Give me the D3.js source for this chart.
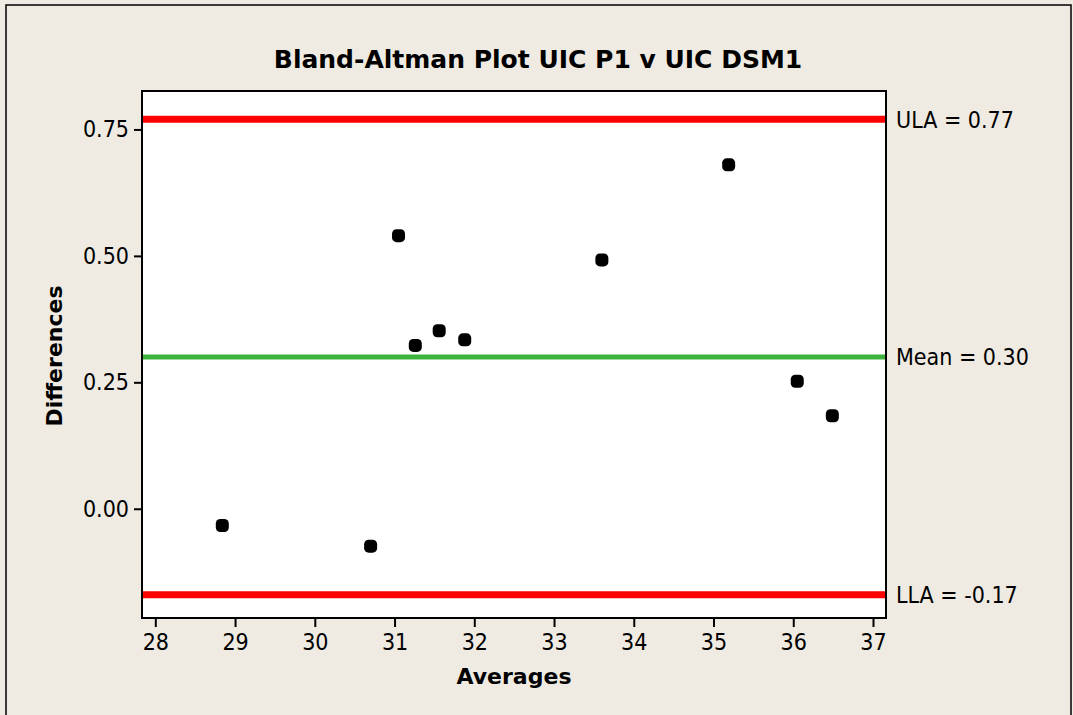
<!DOCTYPE html>
<html>
<head>
<meta charset="utf-8">
<script src="https://cdn.jsdelivr.net/npm/d3@7"></script>
<style>
  body { margin: 0; background: #efebe2; }
  text { font-family: Tahoma, "DejaVu Sans Condensed", "DejaVu Sans", sans-serif; fill: #000; }
  .bold { font-family: Tahoma, "DejaVu Sans", sans-serif; font-weight: bold; }
</style>
</head>
<body>
<script>
const width = 1073;
const height = 715;

// averages (x) and differences (y)
const averages = [28.84, 30.70, 31.05, 31.26, 31.56, 31.88, 33.60, 35.19, 36.05, 36.49];
const differences = [-0.033, -0.074, 0.540, 0.323, 0.352, 0.334, 0.492, 0.680, 0.252, 0.184];

const refLines = [
    { name: "ULA", value: 0.77, color: "#ff0000", width: 7 },
    { name: "Mean", value: 0.30, color: "#3cb43c", width: 5 },
    { name: "LLA", value: -0.17, color: "#ff0000", width: 7 }
];

const xTicks = [28, 29, 30, 31, 32, 33, 34, 35, 36, 37];
const yTicks = [0.00, 0.25, 0.50, 0.75];

const margin = { top: 91, right: 187, bottom: 97, left: 142 };
const plotW = width - margin.left - margin.right;
const plotH = height - margin.top - margin.bottom;

const svg = d3.select(document.body).append("svg")
    .attr("width", width)
    .attr("height", height);

// outer frame
svg.append("rect")
    .attr("x", 6).attr("y", 5)
    .attr("width", 1065).attr("height", 720)
    .attr("fill", "#efebe2")
    .attr("stroke", "#000")
    .attr("stroke-width", 1.5);

const x = d3.scaleLinear().domain([27.833, 37.163]).range([0, plotW]);
const y = d3.scaleLinear().domain([-0.216, 0.826]).range([plotH, 0]);

const g = svg.append("g").attr("transform", `translate(${margin.left},${margin.top})`);

g.append("rect")
    .attr("width", plotW).attr("height", plotH)
    .attr("fill", "#fff");

// reference lines
g.selectAll(".ref")
    .data(refLines)
    .join("line")
    .attr("x1", 0).attr("x2", plotW)
    .attr("y1", d => y(d.value)).attr("y2", d => y(d.value))
    .attr("stroke", d => d.color)
    .attr("stroke-width", d => d.width);

g.selectAll(".reflabel")
    .data(refLines)
    .join("text")
    .attr("x", plotW + 10)
    .attr("y", d => y(d.value))
    .attr("dy", "0.36em")
    .style("font-size", "23px")
    .text(d => `${d.name} = ${d.value.toFixed(2)}`);

// points
const pts = averages.map((a, i) => ({ a, d: differences[i] }));
g.selectAll(".pt")
    .data(pts)
    .join("rect")
    .attr("x", d => x(d.a) - 6.5)
    .attr("y", d => y(d.d) - 6.5)
    .attr("width", 13).attr("height", 13)
    .attr("rx", 4.5)
    .attr("fill", "#000");

// axes
const xAxis = g.append("g")
    .attr("transform", `translate(0,${plotH})`)
    .call(d3.axisBottom(x).tickValues(xTicks).tickSize(9).tickPadding(7).tickSizeOuter(0));
const yAxis = g.append("g")
    .call(d3.axisLeft(y).tickValues(yTicks).tickFormat(d3.format(".2f")).tickSize(8).tickPadding(5).tickSizeOuter(0));

[xAxis, yAxis].forEach(ax => {
    ax.select(".domain").remove();
    ax.selectAll("line").attr("stroke", "#000").attr("stroke-width", 2);
    ax.selectAll("text").style("font-size", "23px").attr("font-family", null);
});

// frame of plot area
g.append("rect")
    .attr("width", plotW).attr("height", plotH)
    .attr("fill", "none")
    .attr("stroke", "#000")
    .attr("stroke-width", 2);

// titles
svg.append("text")
    .attr("class", "bold")
    .attr("x", 538).attr("y", 68)
    .attr("text-anchor", "middle")
    .style("font-size", "25px")
    .text("Bland-Altman Plot UIC P1 v UIC DSM1");

svg.append("text")
    .attr("class", "bold")
    .attr("x", margin.left + plotW / 2).attr("y", 684)
    .attr("text-anchor", "middle")
    .style("font-size", "22px")
    .text("Averages");

svg.append("text")
    .attr("class", "bold")
    .attr("transform", "translate(62,356) rotate(-90)")
    .attr("text-anchor", "middle")
    .style("font-size", "22px")
    .text("Differences");
</script>
</body>
</html>
